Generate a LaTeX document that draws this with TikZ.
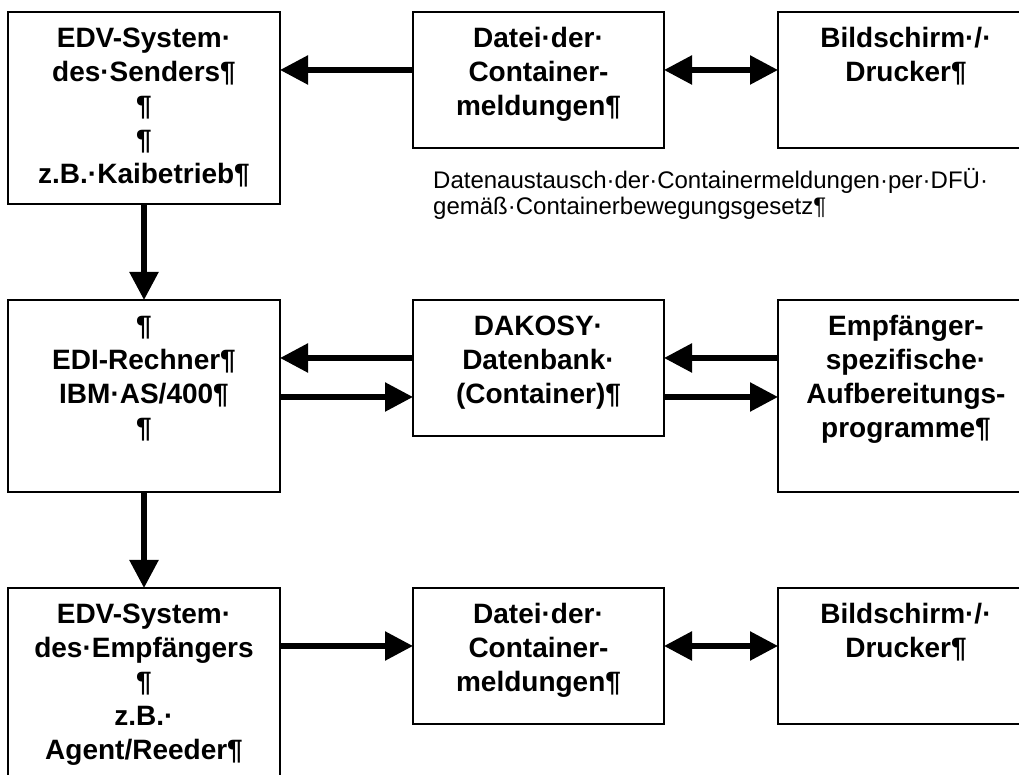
\documentclass[tikz,border=0pt]{standalone}
\usepackage{fontspec}
\newfontfamily\diafont{Liberation Sans}
\usetikzlibrary{arrows.meta,positioning}

\begin{document}
\begin{tikzpicture}[x=1pt, y=1pt,
  box/.style={draw, line width=1.5pt, anchor=north west, align=center,
    inner xsep=4pt, inner ysep=0pt, outer sep=0pt, text height=36pt,
    font=\diafont\bfseries\fontsize{28}{34}\selectfont},
  tall/.style={text width=264pt, text depth=156pt},
  short/.style={text width=#1, text depth=100pt},
  flow/.style={line width=5.5pt, -{Triangle[length=28pt,width=28pt]}},
  both/.style={line width=5.5pt, {Triangle[length=28pt,width=28pt]}-{Triangle[length=28pt,width=28pt]}}]
\useasboundingbox (0,0) rectangle (1019,775);
\clip (0,0) rectangle (1019,775);
\node (sender) [box, tall] at (8,763) {EDV-System·\\des·Senders¶\\¶\\¶\\z.B.·Kaibetrieb¶};
\node (fileA) [box, short=243pt] at (413,763) {Datei·der·\\Container-\\meldungen¶};
\node (screenA) [box, short=248pt] at (778,763) {Bildschirm·/·\\Drucker¶};
\node (note) [anchor=north west, align=left, inner sep=0pt, text width=580pt, text height=18pt,
  font=\diafont\fontsize{24}{26}\selectfont] at (433,605)
  {Datenaustausch·der·Containermeldungen·per·DFÜ·\\gemäß·Containerbewegungsgesetz¶};
\node (edi) [box, tall] at (8,475) {¶\\EDI-Rechner¶\\IBM·AS/400¶\\¶};
\node (dakosy) [box, short=243pt] at (413,475) {DAKOSY·\\Datenbank·\\(Container)¶};
\node (prep) [box, tall, text width=248pt] at (778,475) {Empfänger-\\spezifische·\\Aufbereitungs-\\programme¶};
\node (receiver) [box, tall] at (8,187) {EDV-System·\\des·Empfängers\\¶\\z.B.·\\Agent/Reeder¶};
\node (fileB) [box, short=243pt] at (413,187) {Datei·der·\\Container-\\meldungen¶};
\node (screenB) [box, short=248pt] at (778,187) {Bildschirm·/·\\Drucker¶};
\draw[flow] ([yshift=10pt]fileA.west) -- ([yshift=10pt]fileA.west -| sender.east);
\draw[both] ([yshift=10pt]fileA.east) -- ([yshift=10pt]fileA.east -| screenA.west);
\draw[flow] (sender.south) -- (edi.north);
\draw[flow] ([yshift=10pt]dakosy.west) -- ([yshift=10pt]dakosy.west -| edi.east);
\draw[flow] ([yshift=-29pt]dakosy.west -| edi.east) -- ([yshift=-29pt]dakosy.west);
\draw[flow] ([yshift=10pt]dakosy.east -| prep.west) -- ([yshift=10pt]dakosy.east);
\draw[flow] ([yshift=-29pt]dakosy.east) -- ([yshift=-29pt]dakosy.east -| prep.west);
\draw[flow] (edi.south) -- (receiver.north);
\draw[flow] ([yshift=10pt]fileB.west -| receiver.east) -- ([yshift=10pt]fileB.west);
\draw[both] ([yshift=10pt]fileB.east) -- ([yshift=10pt]fileB.east -| screenB.west);
\end{tikzpicture}
\end{document}
